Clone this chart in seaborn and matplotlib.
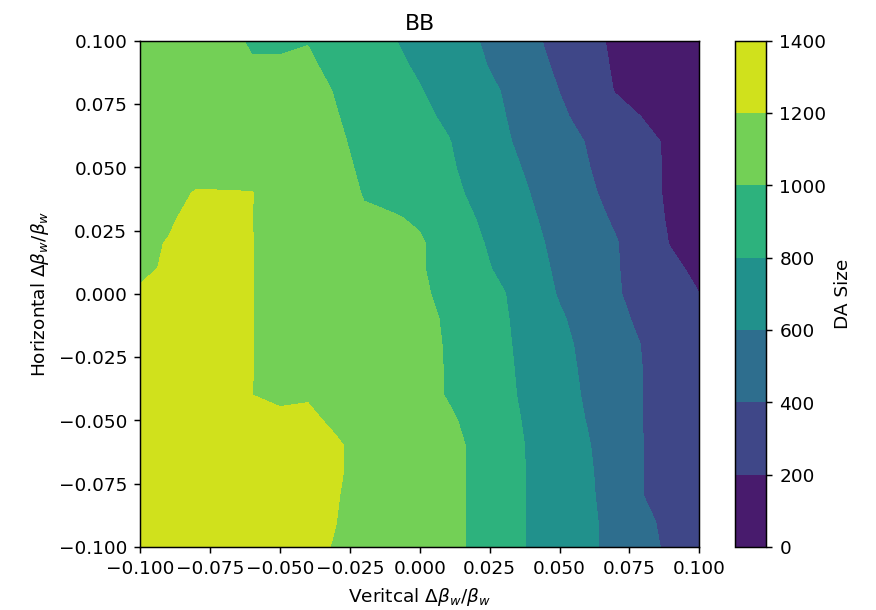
import numpy as np
import matplotlib
matplotlib.use("Agg")
import matplotlib.pyplot as plt
import seaborn as sns

# grid of beta-beating errors (vertical along x, horizontal along y)
vert_beat = [-0.10, -0.09, -0.08, -0.07, -0.06, -0.05, -0.04, -0.03, -0.02, -0.01, 0.00,
             0.01, 0.02, 0.03, 0.04, 0.05, 0.06, 0.07, 0.08, 0.09, 0.10]
horiz_beat = [0.10, 0.09, 0.08, 0.07, 0.06, 0.05, 0.04, 0.03, 0.02, 0.01, 0.00,
              -0.01, -0.02, -0.03, -0.04, -0.05, -0.06, -0.07, -0.08, -0.09, -0.10]

# DA size, one row per horizontal value (top row = +0.10)
da_size = [
    [1130, 1100, 1065, 1025, 990, 985, 993, 950, 880, 812, 745, 678, 611, 524, 433, 344, 256, 168, 125, 95, 80],
    [1140, 1110, 1080, 1050, 1008, 1012, 1028, 954, 901, 841, 776, 705, 634, 552, 460, 370, 275, 179, 135, 100, 85],
    [1150, 1125, 1100, 1075, 1060, 1055, 1053, 992, 931, 870, 810, 739, 666, 591, 495, 398, 295, 193, 140, 105, 90],
    [1160, 1140, 1120, 1100, 1090, 1080, 1064, 1007, 951, 894, 838, 773, 690, 607, 518, 428, 347, 270, 193, 150, 120],
    [1170, 1150, 1130, 1115, 1100, 1085, 1073, 1021, 968, 915, 862, 810, 721, 624, 543, 467, 391, 318, 245, 172, 140],
    [1180, 1165, 1150, 1135, 1115, 1100, 1087, 1034, 981, 928, 875, 823, 747, 655, 567, 487, 407, 329, 250, 172, 145],
    [1150, 1166, 1206, 1207, 1203, 1130, 1099, 1047, 994, 942, 889, 837, 773, 683, 594, 512, 430, 344, 257, 170, 140],
    [1160, 1180, 1240, 1240, 1203, 1120, 1080, 1045, 1012, 1016, 977, 877, 799, 709, 617, 537, 459, 377, 276, 175, 145],
    [1170, 1206, 1250, 1250, 1203, 1130, 1095, 1070, 1050, 1035, 1019, 924, 829, 733, 638, 557, 484, 412, 304, 188, 150],
    [1180, 1212, 1255, 1255, 1203, 1130, 1100, 1080, 1060, 1040, 1017, 934, 851, 761, 661, 570, 491, 413, 328, 241, 155],
    [1213, 1240, 1260, 1260, 1203, 1130, 1105, 1085, 1065, 1045, 1029, 955, 882, 808, 696, 585, 501, 417, 343, 271, 201],
    [1250, 1260, 1265, 1265, 1203, 1140, 1130, 1120, 1110, 1095, 1054, 976, 897, 819, 723, 622, 532, 446, 361, 290, 240],
    [1255, 1265, 1265, 1265, 1203, 1140, 1130, 1120, 1110, 1100, 1063, 984, 905, 826, 737, 644, 556, 474, 391, 310, 250],
    [1260, 1265, 1265, 1265, 1203, 1140, 1130, 1120, 1110, 1100, 1065, 988, 910, 833, 747, 656, 568, 483, 397, 320, 260],
    [1260, 1265, 1265, 1265, 1201, 1165, 1180, 1140, 1120, 1100, 1064, 989, 913, 838, 756, 668, 578, 487, 396, 320, 260],
    [1265, 1270, 1270, 1270, 1260, 1241, 1247, 1158, 1130, 1110, 1080, 1032, 943, 855, 767, 680, 593, 495, 396, 320, 260],
    [1270, 1270, 1270, 1270, 1265, 1260, 1255, 1230, 1123, 1115, 1090, 1060, 965, 869, 777, 695, 612, 509, 401, 320, 260],
    [1270, 1270, 1270, 1270, 1265, 1260, 1255, 1230, 1123, 1115, 1090, 1060, 965, 871, 780, 702, 623, 517, 401, 325, 265],
    [1270, 1270, 1270, 1270, 1265, 1260, 1255, 1212, 1123, 1115, 1090, 1060, 965, 871, 780, 705, 629, 525, 401, 330, 270],
    [1270, 1270, 1270, 1270, 1265, 1260, 1250, 1202, 1123, 1115, 1090, 1060, 965, 871, 780, 708, 634, 545, 444, 343, 280],
    [1270, 1270, 1270, 1270, 1265, 1260, 1240, 1190, 1120, 1110, 1090, 1060, 965, 871, 780, 708, 634, 550, 456, 363, 290],
]

levels = [0, 200, 400, 600, 800, 1000, 1200, 1400]
axis_ticks = [-0.100, -0.075, -0.050, -0.025, 0.000, 0.025, 0.050, 0.075, 0.100]

DPI = 133
W, H = 876, 610

fig = plt.figure(figsize=(W / DPI + 0.003, H / DPI + 0.003), dpi=DPI)
ax = fig.add_axes([140 / W, 1 - 547 / H, 559 / W, 506 / H])
cax = fig.add_axes([735 / W, 1 - 547 / H, 31 / W, 506 / H])

cmap = sns.color_palette("viridis", as_cmap=True)
X, Y = np.meshgrid(vert_beat, horiz_beat)
cs = ax.contourf(X, Y, np.array(da_size), levels=levels, cmap=cmap)

ax.set_xticks(axis_ticks)
ax.set_yticks(axis_ticks)
ax.set_xlim(-0.1, 0.1)
ax.set_ylim(-0.1, 0.1)
ax.set_title("BB")
ax.set_xlabel(r"Veritcal $\Delta\beta_w/\beta_w$")
ax.set_ylabel(r"Horizontal $\Delta\beta_w/\beta_w$")

cb = fig.colorbar(cs, cax=cax)
cb.set_label("DA Size")

fig.savefig("out.png", dpi=DPI)
plt.close(fig)
